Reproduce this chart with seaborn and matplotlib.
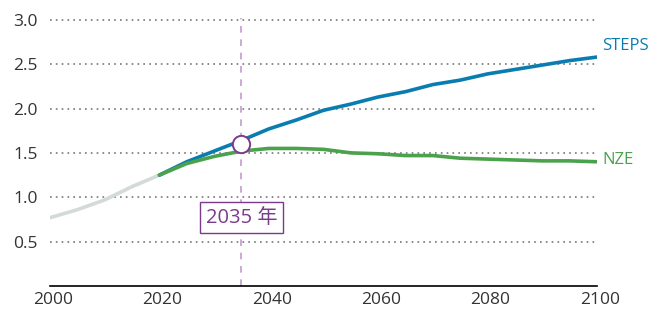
import numpy as np
import pandas as pd
import matplotlib
matplotlib.use('Agg')
import matplotlib.pyplot as plt
import matplotlib.transforms as mtransforms
import seaborn as sns

# historical series and the two scenarios
hist_years = [2000, 2005, 2010, 2015, 2020]
hist_vals = [0.77, 0.86, 0.97, 1.12, 1.25]

steps_years = [2020, 2025, 2030, 2035, 2040, 2045, 2050, 2055, 2060, 2065, 2070, 2075, 2080, 2085, 2090, 2095, 2100]
steps_vals = [1.25, 1.40, 1.52, 1.64, 1.77, 1.87, 1.98, 2.05, 2.13, 2.19, 2.27, 2.32, 2.39, 2.44, 2.49, 2.54, 2.58]

nze_years = [2020, 2025, 2030, 2035, 2040, 2045, 2050, 2055, 2060, 2065, 2070, 2075, 2080, 2085, 2090, 2095, 2100]
nze_vals = [1.25, 1.38, 1.46, 1.52, 1.55, 1.55, 1.54, 1.50, 1.49, 1.47, 1.47, 1.44, 1.43, 1.42, 1.41, 1.41, 1.40]

yticks = [0.5, 1.0, 1.5, 2.0, 2.5, 3.0]
xticks = [2000, 2020, 2040, 2060, 2080, 2100]
marker_year = 2035
marker_val = 1.60
marker_label = '2035 年'

sns.set_theme(style='white')
plt.rcParams['font.family'] = ['Open Sans', 'Noto Sans CJK SC', 'DejaVu Sans']

hist = pd.DataFrame({'year': hist_years, 'value': hist_vals})
steps = pd.DataFrame({'year': steps_years, 'value': steps_vals})
nze = pd.DataFrame({'year': nze_years, 'value': nze_vals})

blue = '#0a7db0'
green = '#4ba24c'
purple = '#7a3b8c'

fig = plt.figure(figsize=(6.52, 3.12), dpi=100)
ax = fig.add_axes([50 / 652, 26 / 312, 547 / 652, 268 / 312])

for y in yticks:
    ax.axhline(y, color='#777777', lw=1.2, ls=(0, (1, 2.5)), zorder=1)

ax.axvline(marker_year, color='#c59bd0', lw=1.2, ls=(0, (4, 4)), zorder=1)

sns.lineplot(data=hist, x='year', y='value', color='#d2dbd8', lw=2.6, ax=ax, zorder=3)
sns.lineplot(data=steps, x='year', y='value', color=blue, lw=2.6, ax=ax, zorder=3)
sns.lineplot(data=nze, x='year', y='value', color=green, lw=2.6, ax=ax, zorder=3)

ax.scatter([marker_year], [marker_val], s=155, facecolor='white', edgecolor=purple, lw=1.4, zorder=5)

ax.text(marker_year, 0.77, marker_label, ha='center', va='center', fontsize=14.5, color=purple,
        bbox=dict(boxstyle='square,pad=0.28', fc='white', ec=purple, lw=1), zorder=6)

ax.text(2100.9, steps_vals[-1] + 0.13, 'STEPS', color=blue, fontsize=12, ha='left', va='center')
ax.text(2100.9, nze_vals[-1] + 0.02, 'NZE', color=green, fontsize=12, ha='left', va='center')

ax.set_xlim(2000, 2100)
ax.set_ylim(0, 3.02)
ax.set_xticks(xticks)
ax.set_yticks(yticks + [0])
ax.set_yticklabels([f'{v:.1f}' for v in yticks] + [''])
ax.set_xlabel('')
ax.set_ylabel('')
ax.tick_params(axis='both', length=0, labelsize=12.5, colors='#333333')
ax.tick_params(axis='y', pad=9)
ax.tick_params(axis='x', pad=4)
ax.set_xticklabels([str(x) for x in xticks])
# the year labels sit a little right of their ticks in the original
shift = mtransforms.ScaledTranslation(3 / 100, 0, fig.dpi_scale_trans)
for lab in ax.get_xticklabels():
    lab.set_transform(lab.get_transform() + shift)
for s in ['top', 'right', 'left']:
    ax.spines[s].set_visible(False)
ax.spines['bottom'].set_color('black')
ax.spines['bottom'].set_linewidth(1.2)

fig.savefig('out.png', dpi=100)
